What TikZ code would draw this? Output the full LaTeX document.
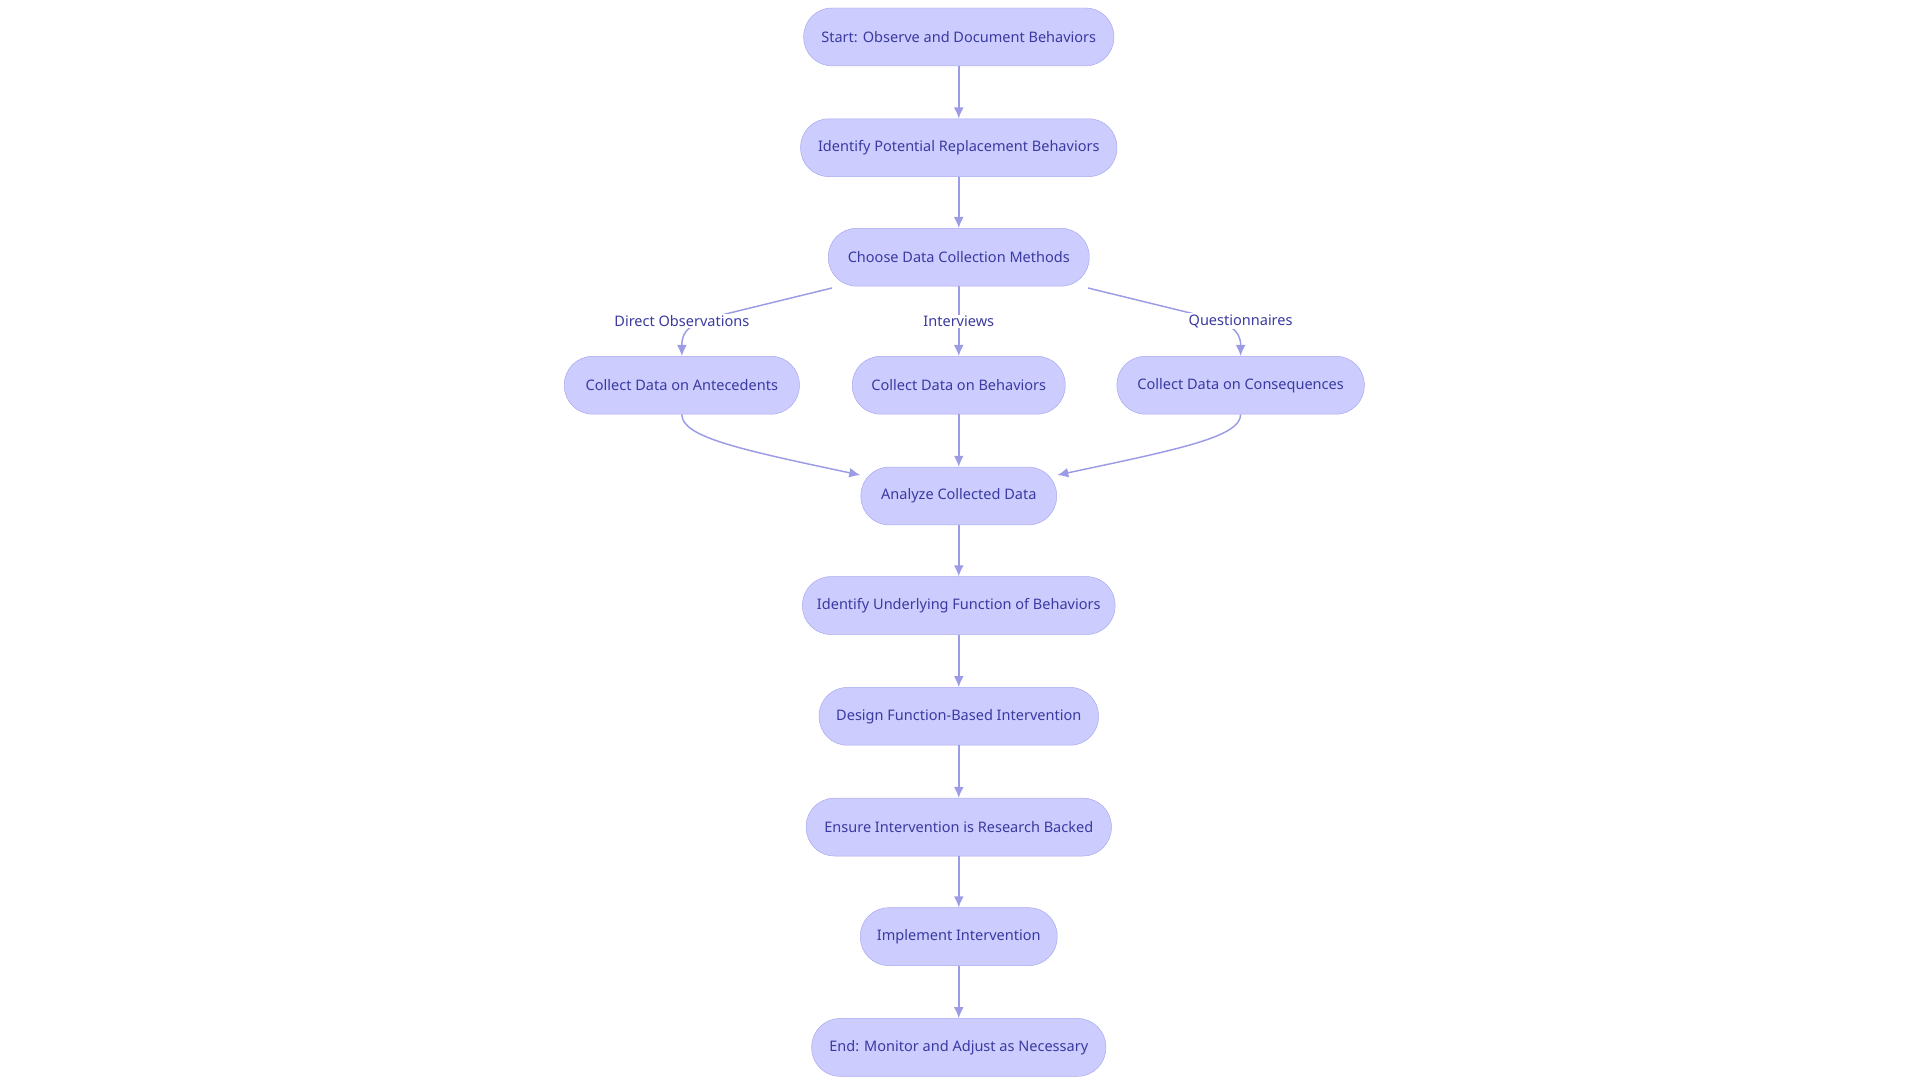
\documentclass[tikz,border=0pt]{standalone}
\usepackage{fontspec}
\setmainfont{Noto Sans}
\usetikzlibrary{arrows.meta, positioning}
\definecolor{boxfill}{HTML}{CCCCFF}
\definecolor{boxline}{HTML}{A8A8EE}
\definecolor{boxtext}{HTML}{3A3AA0}
\definecolor{linkcol}{HTML}{9C9CE6}
\tikzset{
	stepbox/.style = {rectangle, rounded corners=23pt, draw=boxline, fill=boxfill,
		minimum height=47pt, text=boxtext, font=\fontsize{11.8}{14}\selectfont, inner xsep=0pt},
	arrow/.style = {draw=linkcol, line width=1.2pt, -{Latex[length=9pt,width=8pt]}},
	linklabel/.style = {fill=white, text=boxtext, font=\fontsize{11.8}{14}\selectfont, inner sep=1pt}
}
\begin{document}
\begin{tikzpicture}[x=1pt, y=-1pt]
\useasboundingbox (0,0) rectangle (1560,880);
% Placement of nodes
\node (start) [stepbox, minimum width=252pt] at (779,30) {Start: Observe and Document Behaviors};
\node (replace) [stepbox, minimum width=257pt] at (779,120) {Identify Potential Replacement Behaviors};
\node (choose) [stepbox, minimum width=212pt] at (779,209) {Choose Data Collection Methods};
\node (antec) [stepbox, minimum width=191pt] at (554,313) {Collect Data on Antecedents};
\node (behav) [stepbox, minimum width=173pt] at (779,313) {Collect Data on Behaviors};
\node (conseq) [stepbox, minimum width=201pt] at (1008,313) {Collect Data on Consequences};
\node (analyze) [stepbox, minimum width=159pt] at (779,403) {Analyze Collected Data};
\node (function) [stepbox, minimum width=254pt] at (779,492) {Identify Underlying Function of Behaviors};
\node (design) [stepbox, minimum width=227pt] at (779,582) {Design Function-Based Intervention};
\node (ensure) [stepbox, minimum width=248pt] at (779,672) {Ensure Intervention is Research Backed};
\node (implement) [stepbox, minimum width=160pt] at (779,761) {Implement Intervention};
\node (finish) [stepbox, minimum width=239pt] at (779,851) {End: Monitor and Adjust as Necessary};

\coordinate (chooseL) at (676,234);
\coordinate (chooseR) at (884,234);

% Placement of edges
\draw [arrow] (start) -- (replace);
\draw [arrow] (replace) -- (choose);

\draw [arrow] (chooseL) -- (590,255) .. controls (560,263) and (554,268) .. (antec.north);
\draw [arrow] (choose) -- (behav);
\draw [arrow] (chooseR) -- (970,255) .. controls (1000,263) and (1008,268) .. (conseq.north);
\node [linklabel] at (554,261) {Direct Observations};
\node [linklabel] at (779,261) {Interviews};
\node [linklabel] at (1008,261) {Questionnaires};

\draw [arrow] (antec.south) .. controls (554,355) and (600,365) .. (699,386);
\draw [arrow] (behav) -- (analyze);
\draw [arrow] (conseq.south) .. controls (1008,355) and (958,365) .. (859,386);

\draw [arrow] (analyze) -- (function);
\draw [arrow] (function) -- (design);
\draw [arrow] (design) -- (ensure);
\draw [arrow] (ensure) -- (implement);
\draw [arrow] (implement) -- (finish);
\end{tikzpicture}
\end{document}
